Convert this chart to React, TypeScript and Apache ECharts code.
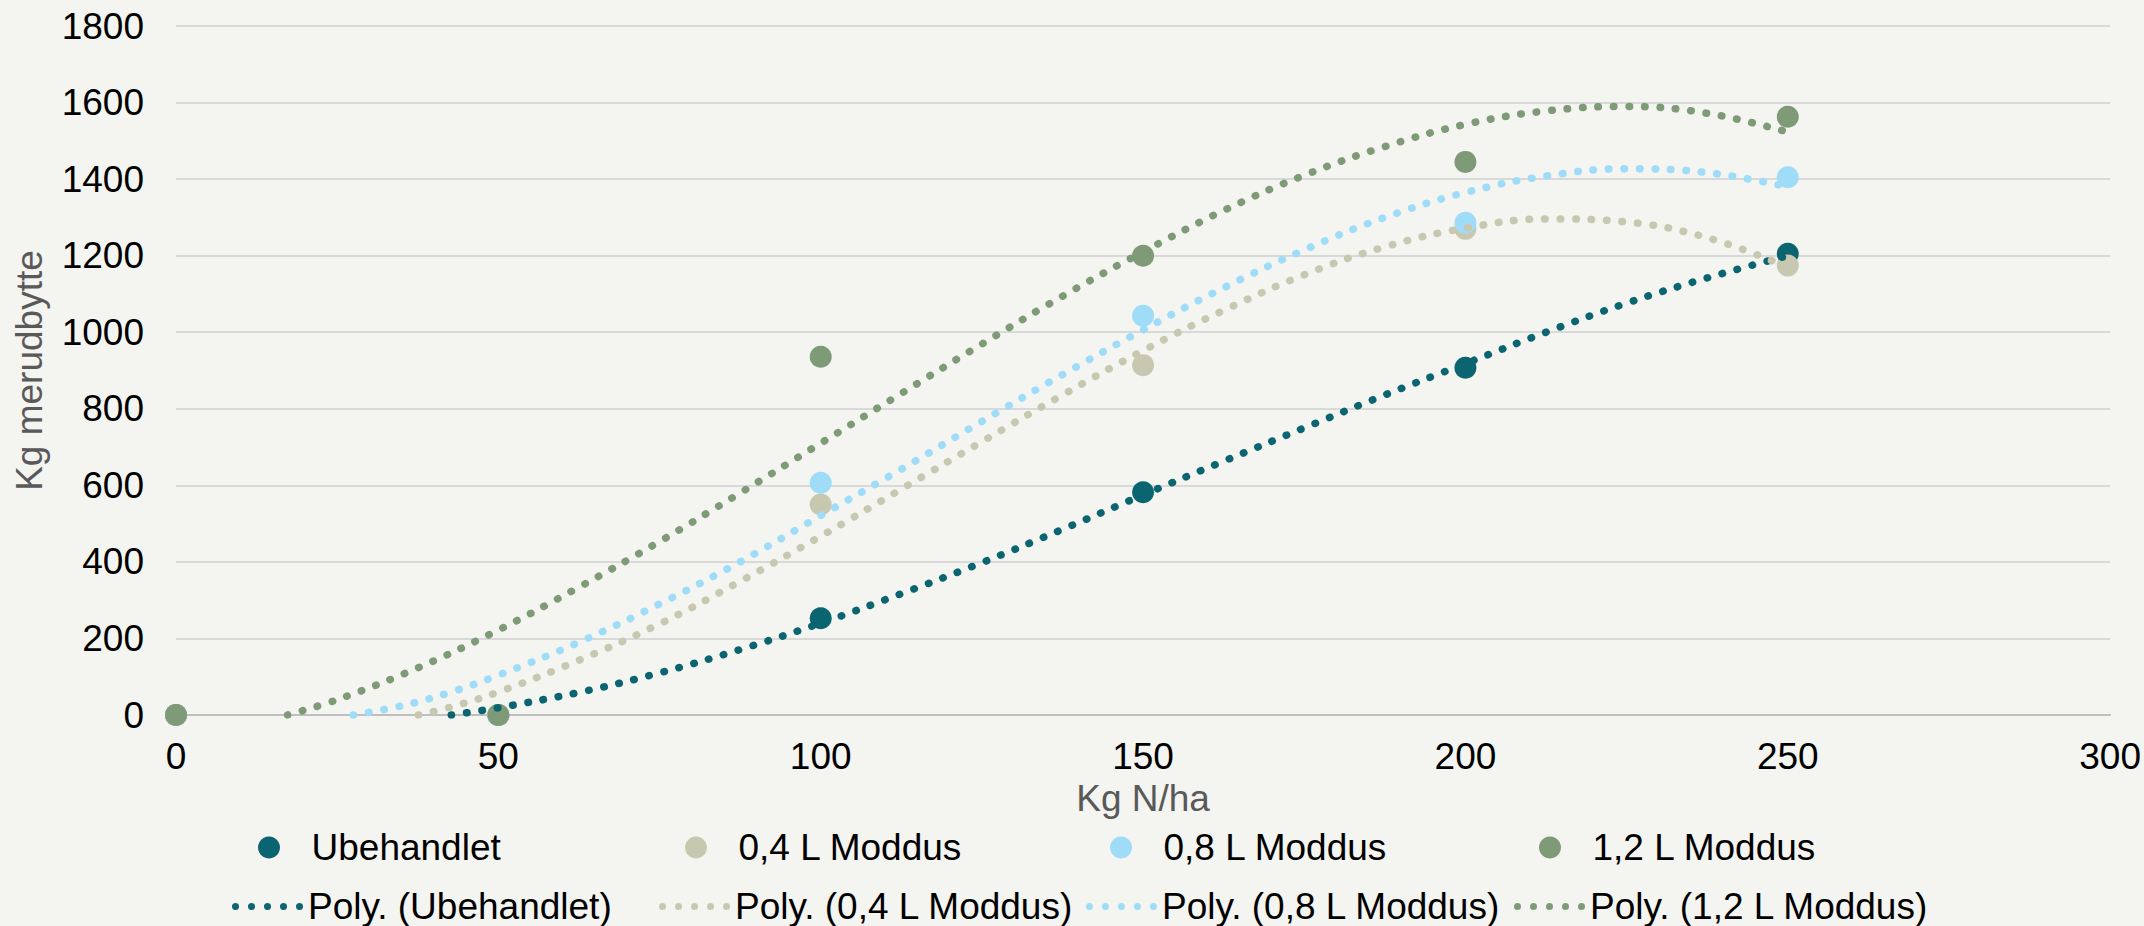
import React, { useEffect, useRef } from "react";
import * as echarts from "echarts";

const FONT = "'Liberation Sans', Arial, sans-serif";
const FS = 37;

const doses = [0, 50, 100, 150, 200, 250];
const seriesNames = ["Ubehandlet", "0,4 L Moddus", "0,8 L Moddus", "1,2 L Moddus"];
const trendNames = ["Poly. (Ubehandlet)", "Poly. (0,4 L Moddus)", "Poly. (0,8 L Moddus)", "Poly. (1,2 L Moddus)"];
const colors = ["#0a6571", "#c8c8b1", "#9edcf8", "#7e9a77"];

const ubehandlet = [0, 0, 253, 582, 907, 1205];
const moddus04 = [0, 0, 550, 914, 1270, 1174];
const moddus08 = [0, 0, 607, 1043, 1286, 1405];
const moddus12 = [0, 0, 936, 1200, 1445, 1563];

// trendline points: [kg N/ha, kg merudbytte]
const trendUbehandlet = [
  [42.7, 0], [50, 19], [62.5, 59], [75, 110], [87.5, 171], [100, 240], [112.5, 317], [125, 398],
  [137.5, 485], [150, 575], [162.5, 663], [175, 750], [187.5, 836], [200, 918], [212.5, 1000],
  [225, 1076], [237.5, 1142], [250, 1200],
];
const trend04 = [
  [37.6, 0], [42.5, 20], [50, 60], [62.5, 143], [75, 238], [87.5, 349], [100, 467], [112.5, 590],
  [125, 714], [137.5, 836], [150, 952], [162.5, 1057], [175, 1150], [187.5, 1223], [200, 1272],
  [212.5, 1296], [225, 1288], [237.5, 1247], [250, 1170],
];
const trend08 = [
  [27.5, 0], [35, 24], [42.5, 59], [50, 104], [62.5, 190], [75, 290], [87.5, 400], [100, 521],
  [112.5, 642], [125, 767], [137.5, 889], [150, 1006], [162.5, 1116], [175, 1215], [187.5, 1300],
  [200, 1365], [212.5, 1408], [225, 1427], [237.5, 1417], [250, 1380],
];
const trend12 = [
  [17.3, 0], [25, 40], [37.5, 123], [50, 222], [62.5, 334], [75, 453], [87.5, 580], [100, 710],
  [112.5, 840], [125, 969], [137.5, 1094], [150, 1210], [162.5, 1318], [175, 1410], [187.5, 1485],
  [200, 1543], [212.5, 1578], [225, 1590], [237.5, 1572], [250, 1523],
];

const scatterValues = [ubehandlet, moddus04, moddus08, moddus12];
const trendValues = [trendUbehandlet, trend04, trend08, trend12];
const legendMarkerLefts = [258, 685, 1110, 1539];
const legendLineLefts = [232, 659, 1086, 1514];

const DOTS_ICON =
  "path://M0,3.5a3.5,3.5 0 1,0 7,0a3.5,3.5 0 1,0 -7,0z" +
  "M16,3.5a3.5,3.5 0 1,0 7,0a3.5,3.5 0 1,0 -7,0z" +
  "M32,3.5a3.5,3.5 0 1,0 7,0a3.5,3.5 0 1,0 -7,0z" +
  "M48,3.5a3.5,3.5 0 1,0 7,0a3.5,3.5 0 1,0 -7,0z" +
  "M64,3.5a3.5,3.5 0 1,0 7,0a3.5,3.5 0 1,0 -7,0z";

export default function App() {
  const ref = useRef<HTMLDivElement>(null);
  useEffect(() => {
    document.body.style.margin = "0";
    const chart = echarts.init(ref.current!, undefined, { renderer: "svg" });
    const series: any[] = [];
    seriesNames.forEach((name, i) => {
      series.push({
        name,
        type: "scatter",
        symbol: "circle",
        symbolSize: 22,
        itemStyle: { color: colors[i], opacity: 1 },
        data: doses.map((d, j) => [d, scatterValues[i][j]]),
      });
      series.push({
        name: trendNames[i],
        type: "line",
        smooth: 0.4,
        showSymbol: false,
        symbol: "none",
        lineStyle: { color: colors[i], width: 7.5, type: [0.5, 15], cap: "round" },
        itemStyle: { color: colors[i] },
        data: trendValues[i],
      });
    });
    const legends: any[] = [];
    seriesNames.forEach((name, i) => {
      legends.push({
        data: [name],
        left: legendMarkerLefts[i],
        top: 829,
        padding: 0,
        itemWidth: 75,
        itemHeight: 22,
        icon: "circle",
        symbolKeepAspect: true,
        selectedMode: false,
        itemStyle: { color: colors[i], opacity: 1, borderWidth: 0 },
        textStyle: { fontSize: FS, color: "#000", fontFamily: FONT },
      });
      legends.push({
        data: [trendNames[i]],
        left: legendLineLefts[i],
        top: 888,
        padding: 0,
        itemWidth: 71,
        itemHeight: 7,
        icon: DOTS_ICON,
        selectedMode: false,
        itemStyle: { color: colors[i], opacity: 1, borderWidth: 0 },
        textStyle: { fontSize: FS, color: "#000", fontFamily: FONT },
      });
    });
    chart.setOption({
      animation: false,
      backgroundColor: "#f4f4f0",
      textStyle: { fontFamily: FONT },
      grid: { left: 176, right: 33, top: 26, bottom: 211, containLabel: false },
      xAxis: {
        type: "value",
        min: 0,
        max: 300,
        interval: 50,
        name: "Kg N/ha",
        nameLocation: "middle",
        nameGap: 61,
        nameTextStyle: { fontSize: FS, color: "#595959", fontFamily: FONT },
        axisLine: { show: true, lineStyle: { color: "#bfbfbf", width: 2 } },
        axisTick: { show: false },
        splitLine: { show: false },
        axisLabel: { fontSize: FS, color: "#000", margin: 23, fontFamily: FONT },
      },
      yAxis: {
        type: "value",
        min: 0,
        max: 1800,
        interval: 200,
        name: "Kg merudbytte",
        nameLocation: "middle",
        nameRotate: 90,
        nameGap: 128,
        nameTextStyle: { fontSize: FS, color: "#595959", fontFamily: FONT },
        axisLine: { show: false },
        axisTick: { show: false },
        splitLine: { show: true, lineStyle: { color: "#d9d9d9", width: 2 } },
        axisLabel: {
          fontSize: FS,
          color: "#000",
          margin: 32,
          fontFamily: FONT,
          formatter: (v: number) => String(v),
        },
      },
      legend: legends,
      series,
    });
    return () => chart.dispose();
  }, []);
  return <div ref={ref} style={{ width: 2144, height: 926, position: "absolute", left: 0, top: 0 }} />;
}
